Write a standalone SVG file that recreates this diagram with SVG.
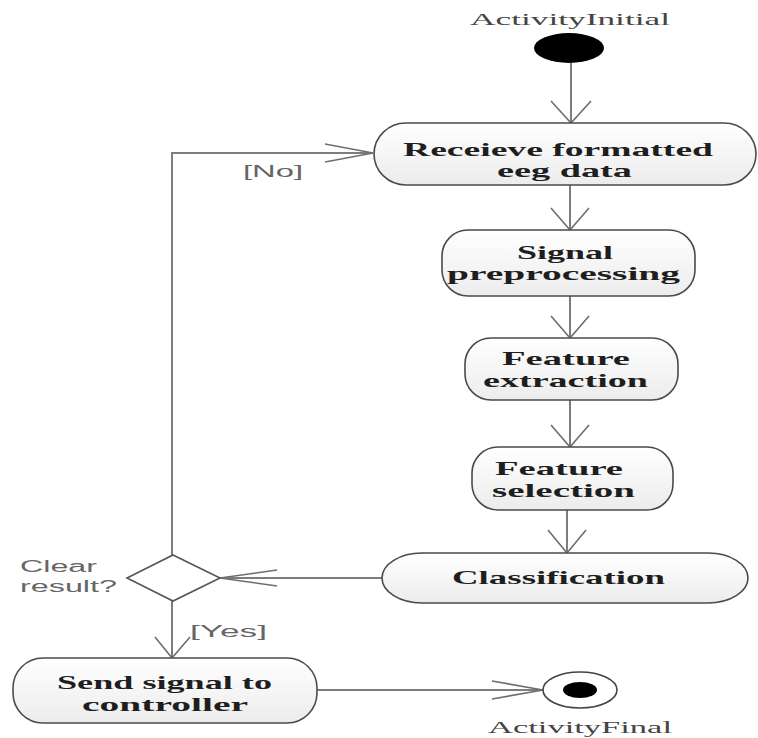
<svg xmlns="http://www.w3.org/2000/svg" width="758" height="738" viewBox="0 0 758 738">
  <style>
    .act { fill: url(#actFill); stroke: #4a4a4a; stroke-width: 1.6; }
    .lbl { font-family: "Liberation Serif", "Times New Roman", serif; font-weight: bold; font-size: 19px; fill: #1e1e1e; }
    .cap { font-family: "Liberation Serif", "Times New Roman", serif; font-size: 16px; fill: #444; }
    .grd { font-family: "Liberation Sans", Arial, sans-serif; font-size: 16px; fill: #666; }
    .flow { fill: none; stroke: #7d7d7d; stroke-width: 2; }
    .head { fill: none; stroke: #6e6e6e; stroke-width: 1.6; }
  </style>
  <defs>
    <linearGradient id="actFill" x1="0" y1="0" x2="0" y2="1">
      <stop offset="0" stop-color="#ffffff"/>
      <stop offset="1" stop-color="#ececec"/>
    </linearGradient>
  </defs>
  <rect width="758" height="738" fill="#ffffff"/>

  <!-- control flows -->
  <g id="connectors">
    <line class="flow" x1="571" y1="63" x2="571" y2="123"/>
    <polyline class="head" points="551,101 571,123 591,101"/>

    <line class="flow" x1="570" y1="185" x2="570" y2="230"/>
    <polyline class="head" points="551,208 570,230 589,208"/>

    <line class="flow" x1="570" y1="296" x2="570" y2="338"/>
    <polyline class="head" points="551,316 570,338 589,316"/>

    <line class="flow" x1="570" y1="400" x2="570" y2="447"/>
    <polyline class="head" points="551,425 570,447 589,425"/>

    <line class="flow" x1="567" y1="510" x2="567" y2="553"/>
    <polyline class="head" points="548,530 567,553 586,530"/>

    <line class="flow" x1="382" y1="578" x2="220" y2="578"/>
    <polyline class="head" points="277,570 220,578 277,586"/>

    <line class="flow" x1="172" y1="601" x2="172" y2="658"/>
    <polyline class="head" points="155,637 172,658 190,637"/>

    <polyline class="flow" points="172,555 172,153 373,153"/>
    <polyline class="head" points="325,144 373,153 325,162"/>

    <line class="flow" x1="317" y1="690" x2="543" y2="690"/>
    <polyline class="head" points="492,681 543,690 492,699"/>

    <text class="grd" x="243" y="177" textLength="60" lengthAdjust="spacingAndGlyphs">[No]</text>
    <text class="grd" x="190" y="637" textLength="77" lengthAdjust="spacingAndGlyphs">[Yes]</text>
  </g>

  <g id="initial">
    <text class="cap" x="470" y="25" textLength="200" lengthAdjust="spacingAndGlyphs">ActivityInitial</text>
    <ellipse cx="569" cy="48" rx="35" ry="15" fill="#000"/>
  </g>

  <g id="receive">
    <rect class="act" x="374" y="123" width="382" height="62" rx="32" ry="31"/>
    <text class="lbl" x="403" y="156" textLength="310" lengthAdjust="spacingAndGlyphs">Receieve formatted</text>
    <text class="lbl" x="497" y="177" textLength="135" lengthAdjust="spacingAndGlyphs">eeg data</text>
  </g>

  <g id="preprocessing">
    <rect class="act" x="442" y="230" width="253" height="66" rx="26" ry="26"/>
    <text class="lbl" x="517" y="259" textLength="96" lengthAdjust="spacingAndGlyphs">Signal</text>
    <text class="lbl" x="447" y="280" textLength="233" lengthAdjust="spacingAndGlyphs">preprocessing</text>
  </g>

  <g id="extraction">
    <rect class="act" x="465" y="338" width="213" height="62" rx="26" ry="26"/>
    <text class="lbl" x="502" y="365" textLength="128" lengthAdjust="spacingAndGlyphs">Feature</text>
    <text class="lbl" x="483" y="387" textLength="165" lengthAdjust="spacingAndGlyphs">extraction</text>
  </g>

  <g id="selection">
    <rect class="act" x="472" y="447" width="201" height="63" rx="26" ry="26"/>
    <text class="lbl" x="495" y="475" textLength="128" lengthAdjust="spacingAndGlyphs">Feature</text>
    <text class="lbl" x="492" y="497" textLength="143" lengthAdjust="spacingAndGlyphs">selection</text>
  </g>

  <g id="classification">
    <rect class="act" x="382" y="553" width="366" height="50" rx="40" ry="25"/>
    <text class="lbl" x="452" y="584" textLength="213" lengthAdjust="spacingAndGlyphs">Classification</text>
  </g>

  <g id="decision">
    <polygon points="173,555 220,578 173,601 127,578" fill="#ffffff" stroke="#555" stroke-width="1.6"/>
    <text class="grd" x="20" y="572" textLength="77" lengthAdjust="spacingAndGlyphs">Clear</text>
    <text class="grd" x="20" y="592" textLength="97" lengthAdjust="spacingAndGlyphs">result?</text>
  </g>

  <g id="send">
    <rect class="act" x="13" y="658" width="304" height="65" rx="30" ry="30"/>
    <text class="lbl" x="57" y="689" textLength="215" lengthAdjust="spacingAndGlyphs">Send signal to</text>
    <text class="lbl" x="82" y="711" textLength="166" lengthAdjust="spacingAndGlyphs">controller</text>
  </g>

  <g id="final">
    <ellipse cx="580" cy="690" rx="37" ry="18" fill="#ffffff" stroke="#444" stroke-width="1.6"/>
    <ellipse cx="580" cy="690" rx="17" ry="8" fill="#000"/>
    <text class="cap" x="488" y="733" textLength="184" lengthAdjust="spacingAndGlyphs">ActivityFinal</text>
  </g>
</svg>
